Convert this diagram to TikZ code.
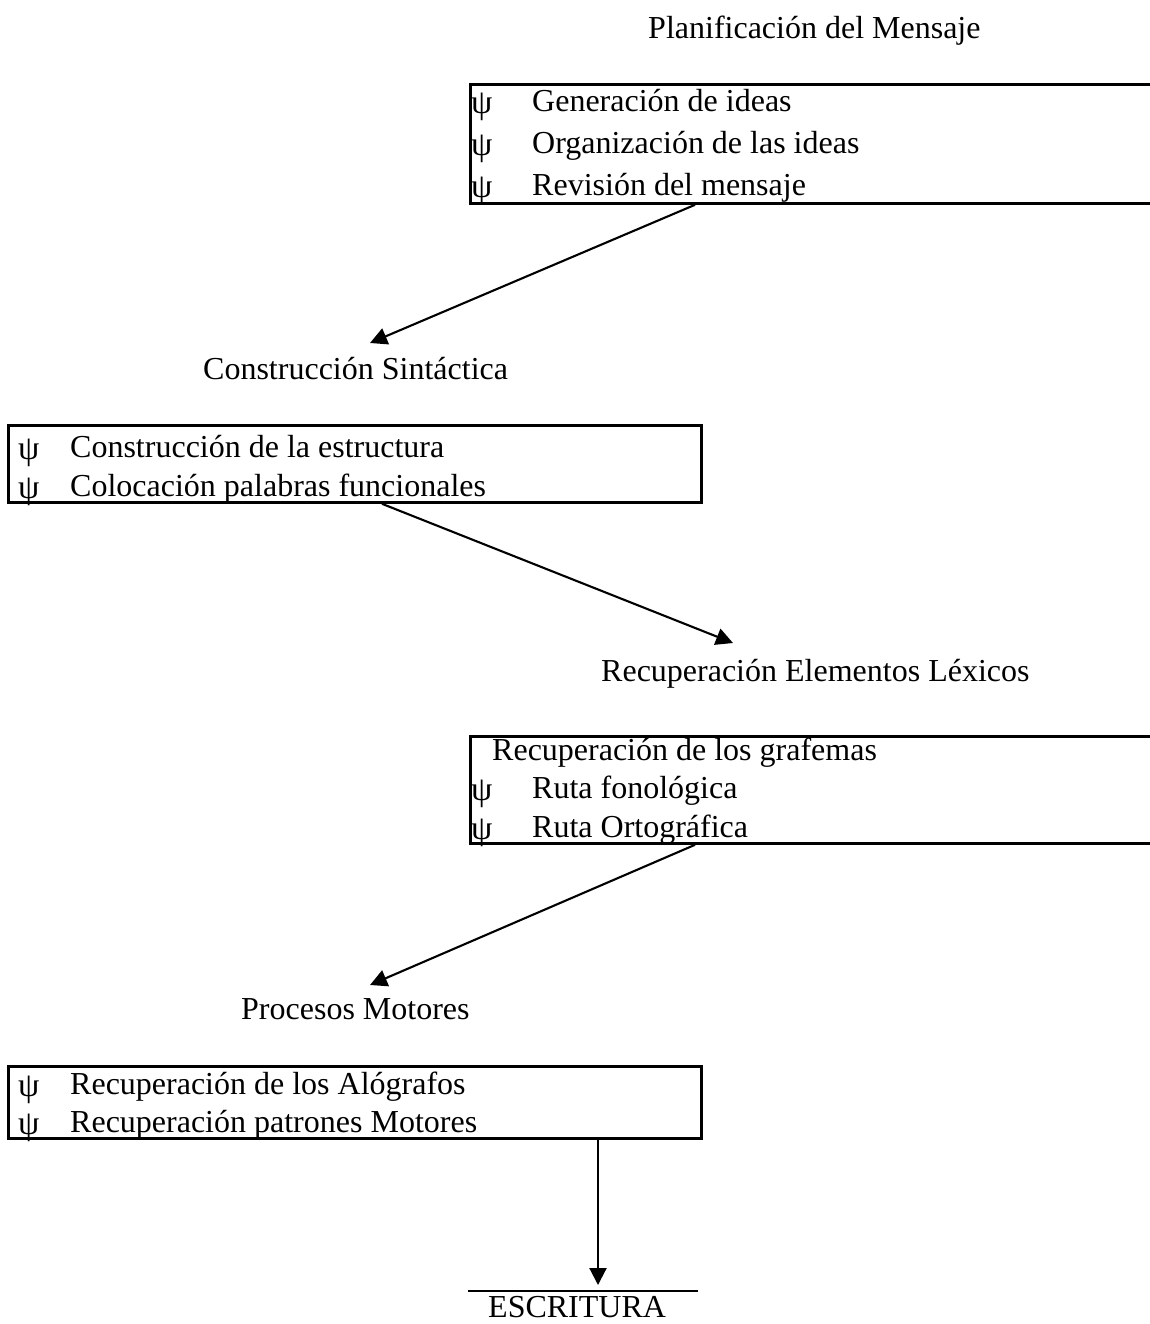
\documentclass[tikz,border=0pt]{standalone}
\usepackage{fontspec}
\setmainfont{Liberation Serif}
\usetikzlibrary{arrows.meta,calc}
\begin{document}
\begin{tikzpicture}[x=1pt,y=-1pt,
  txt/.style={inner sep=0pt,anchor=base west,font=\fontsize{32}{38}\selectfont},
  psi/.style={inner sep=0pt,anchor=base west,font=\fontsize{34}{38}\selectfont},
  box/.style={draw,line width=2.8pt,inner sep=0pt,anchor=north west},
  conn/.style={line width=2.1pt,-{Triangle[length=17pt,width=17pt]}}]
\useasboundingbox (0,0) rectangle (1149,1324);
% titles
\node[txt] (t1) at (648,39) {Planificación del Mensaje};
\node[txt] (t2) at (203,379) {Construcción Sintáctica};
\node[txt] (t3) at (601,681) {Recuperación Elementos Léxicos};
\node[txt] (t4) at (241,1019) {Procesos Motores};
\node[txt] (t5) at (488,1317) {ESCRITURA};
% box 1
\node[box,minimum width=700pt,minimum height=119pt] (b1) at (469,83) {};
\node[psi] (b1p1) at (471,114) {ψ};
\node[txt] (b1l1) at (532,112) {Generación de ideas};
\node[psi] (b1p2) at (471,156) {ψ};
\node[txt] (b1l2) at (532,154) {Organización de las ideas};
\node[psi] (b1p3) at (471,198) {ψ};
\node[txt] (b1l3) at (532,196) {Revisión del mensaje};
% box 2
\node[box,minimum width=693pt,minimum height=77pt] (b2) at (7,424) {};
\node[psi] (b2p1) at (18,459) {ψ};
\node[txt] (b2l1) at (70,457) {Construcción de la estructura};
\node[psi] (b2p2) at (18,498) {ψ};
\node[txt] (b2l2) at (70,496) {Colocación palabras funcionales};
% box 3
\node[box,minimum width=700pt,minimum height=107pt] (b3) at (469,735) {};
\node[txt] (b3l0) at (492,760) {Recuperación de los grafemas};
\node[psi] (b3p1) at (471,800) {ψ};
\node[txt] (b3l1) at (532,798) {Ruta fonológica};
\node[psi] (b3p2) at (471,839) {ψ};
\node[txt] (b3l2) at (532,837) {Ruta Ortográfica};
% box 4
\node[box,minimum width=693pt,minimum height=72pt] (b4) at (7,1065) {};
\node[psi] (b4p1) at (18,1096) {ψ};
\node[txt] (b4l1) at (70,1094) {Recuperación de los Alógrafos};
\node[psi] (b4p2) at (18,1134) {ψ};
\node[txt] (b4l2) at (70,1132) {Recuperación patrones Motores};
% line above ESCRITURA
\coordinate (la) at (468,1291);
\coordinate (lb) at (698,1291);
\draw[line width=2.8pt] (la) -- (lb);
% connectors
\draw[conn] ($(b1.south west)+(226,0)$) -- ($(t2.base west)+(167,-36)$);
\draw[conn] ($(b2.south west)+(375,0)$) -- ($(t3.base west)+(132,-38)$);
\draw[conn] ($(b3.south west)+(226,0)$) -- ($(t4.base west)+(129,-34)$);
\draw[conn] ($(b4.south west)+(591,0)$) -- ($(la)+(130,-6)$);
\end{tikzpicture}
\end{document}
